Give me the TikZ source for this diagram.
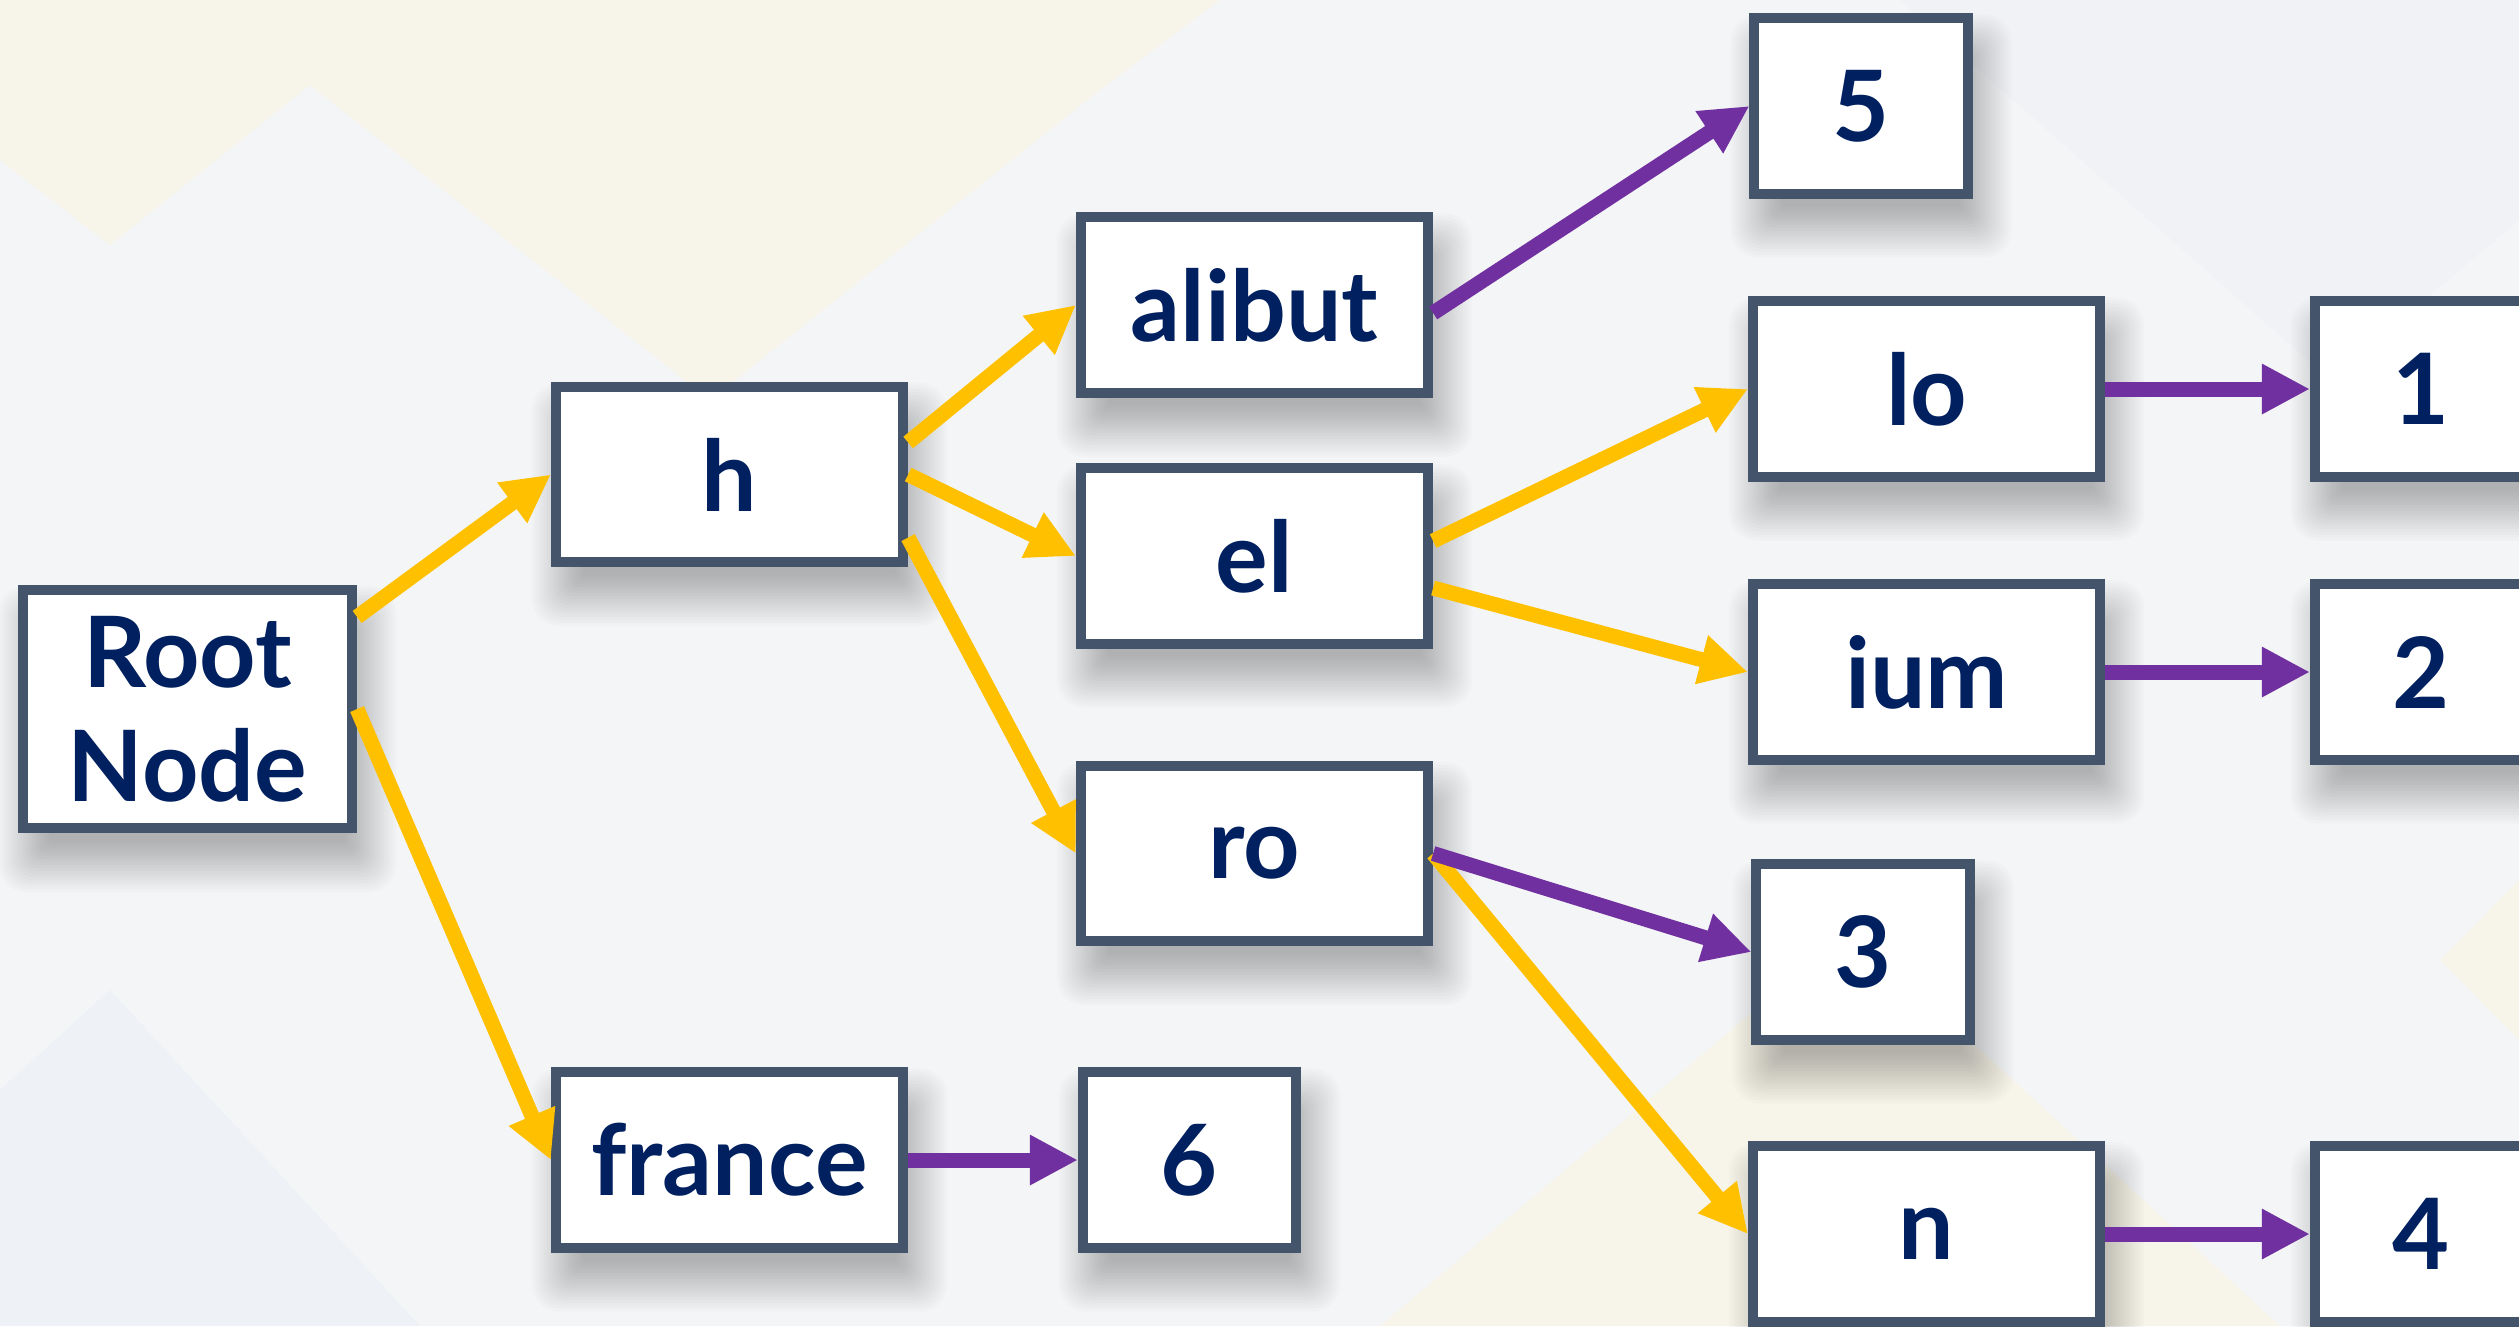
\documentclass[tikz,border=0pt]{standalone}
\usepackage{fontspec}
\setmainfont{Lato}
\usetikzlibrary{arrows.meta}

\definecolor{boxline}{HTML}{44546A}
\definecolor{labelblue}{HTML}{002060}
\definecolor{linkgold}{HTML}{FFC000}
\definecolor{linkviolet}{HTML}{7030A0}
\definecolor{paper}{HTML}{F4F5F7}
\definecolor{cream}{HTML}{F7F4EA}
\definecolor{mist}{HTML}{EEF1F5}

\pgfdeclarelayer{backdrop}
\pgfdeclarelayer{shade}
\pgfsetlayers{backdrop,shade,main}

% soft drop shadow under a node: stacked translucent rectangles
% growing out of a core that sits hidden behind the box
\newcommand\softshade[1]{%
  \foreach \k in {1,...,18}{%
    \pgfmathsetmacro\grow{\k*0.03-0.25}%
    \fill[black, opacity=0.014, rounded corners=\k*0.015cm]
      ([xshift=0.1cm-\grow cm, yshift=-0.3cm+\grow cm]#1.north west)
      rectangle ([xshift=0.1cm+\grow cm, yshift=-0.3cm-\grow cm]#1.south east);
  }}

\begin{document}
\begin{tikzpicture}[x=0.01cm, y=-0.01cm,
  trie/.style={draw=boxline, line width=0.1cm, fill=white, text=labelblue,
    font=\fontsize{28}{32.4}\selectfont\bfseries, inner sep=0pt,
    minimum height=1.75cm, align=center},
  wide/.style={trie, minimum width=3.47cm},
  narrow/.style={trie, minimum width=2.13cm},
  edge/.style={line width=0.15cm, -{Triangle[length=0.48cm, width=0.47cm]}},
  branch/.style={edge, color=linkgold},
  leaf/.style={edge, color=linkviolet}]

% canvas
\path[use as bounding box] (0,0) rectangle (2519,1326);
\clip (0,0) rectangle (2519,1326);

\begin{pgfonlayer}{backdrop}
\fill[paper] (0,0) rectangle (2519,1326);
% faint diamond tiles
\fill[cream] (0,0) -- (0,160) -- (110,245) -- (310,85) -- (710,400)
  -- (1100,90) -- (1220,0) -- cycle;
\fill[cream] (1850,930) -- (2280,1326) -- (1380,1326) -- cycle;
\fill[cream] (2519,880) -- (2440,960) -- (2519,1040) -- cycle;
\fill[mist] (110,990) -- (420,1326) -- (0,1326) -- (0,1090) -- cycle;
\fill[mist, opacity=0.6] (1900,0) -- (2330,380) -- (2519,220) -- (2519,0) -- cycle;
\end{pgfonlayer}

% nodes
\node[trie, minimum width=3.29cm, minimum height=2.38cm] (root) at (187.5,709) {Root\\Node};
\node[wide]   (h)      at (729.5,474.5) {h};
\node[wide]   (france) at (729.5,1160)  {france};
\node[wide]   (alibut) at (1254.5,305)  {alibut};
\node[wide]   (el)     at (1254.5,556)  {el};
\node[wide]   (ro)     at (1254.5,853.5) {ro};
\node[narrow] (six)    at (1189.5,1160) {6};
\node[narrow] (five)   at (1861,106)    {5};
\node[wide]   (lo)     at (1926.5,389)  {lo};
\node[wide]   (ium)    at (1926.5,672)  {ium};
\node[narrow] (three)  at (1863,952)    {3};
\node[wide]   (n)      at (1926.5,1234) {n};
\node[narrow] (one)    at (2421.5,389)  {1};
\node[narrow] (two)    at (2421.5,672)  {2};
\node[narrow] (four)   at (2421.5,1234) {4};

\begin{pgfonlayer}{shade}
\foreach \b in {root,h,france,alibut,el,ro,six,five,lo,ium,three,n,one,two,four}
  {\softshade{\b}}
\end{pgfonlayer}

% prefix links
\draw[branch] ([yshift=0.92cm]root.east) -- (h.west);
\draw[branch] (root.east) -- (france.west);
\draw[branch] ([yshift=0.32cm]h.east) -- (alibut.west);
\draw[branch] (h.east) -- (el.west);
\draw[branch] ([yshift=-0.63cm]h.east) -- (ro.west);
\draw[branch] ([yshift=0.15cm]el.east) -- (lo.west);
\draw[branch] ([yshift=-0.32cm]el.east) -- (ium.west);
\draw[branch] (ro.east) -- (n.west);

% value links
\draw[leaf] ([yshift=-0.08cm]alibut.east) -- (five.west);
\draw[leaf] (ro.east) -- (three.west);
\draw[leaf] (france.east) -- (six.west);
\draw[leaf] (lo.east) -- (one.west);
\draw[leaf] (ium.east) -- (two.west);
\draw[leaf] (n.east) -- (four.west);
\end{tikzpicture}
\end{document}
